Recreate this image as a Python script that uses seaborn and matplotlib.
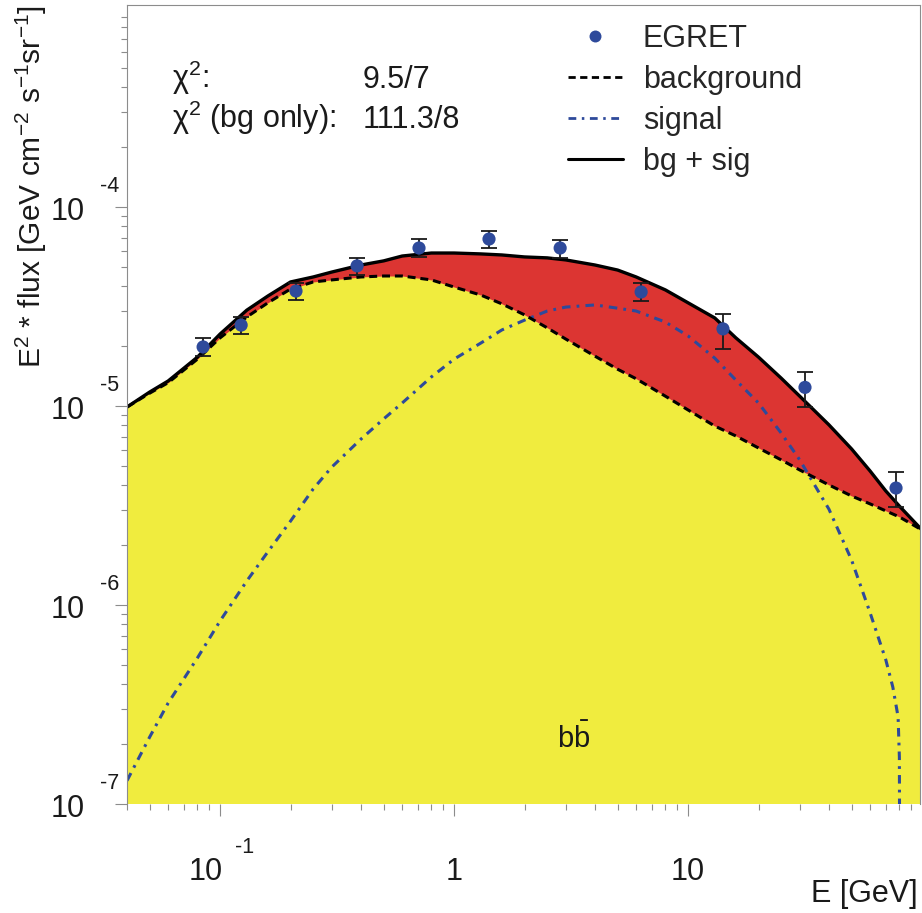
import numpy as np
import matplotlib
matplotlib.use("Agg")
import matplotlib.pyplot as plt
import seaborn as sns
from matplotlib.lines import Line2D
from matplotlib.ticker import FixedLocator, LogLocator, NullFormatter

# ---------------- data ----------------
egret_E = [0.0846, 0.123, 0.211, 0.385, 0.708, 1.41, 2.84, 6.3, 14.1, 31.6, 77.4]
egret_flux = [1.98e-5, 2.55e-5, 3.78e-5, 5.06e-5, 6.22e-5, 6.9e-5, 6.22e-5, 3.74e-5, 2.44e-5, 1.24e-5, 3.87e-6]
egret_lo = [1.78e-5, 2.30e-5, 3.41e-5, 4.55e-5, 5.61e-5, 6.22e-5, 5.55e-5, 3.37e-5, 1.93e-5, 9.89e-6, 3.10e-6]
egret_hi = [2.20e-5, 2.80e-5, 4.15e-5, 5.55e-5, 6.90e-5, 7.57e-5, 6.83e-5, 4.15e-5, 2.90e-5, 1.48e-5, 4.66e-6]

curve_E = [0.04, 0.05, 0.06, 0.08, 0.1, 0.13, 0.16, 0.2, 0.25, 0.3, 0.4, 0.5, 0.6, 0.8,
           1, 1.3, 1.6, 2, 2.5, 3, 4, 5, 6, 8, 10, 13, 16, 20, 25, 30, 40, 50, 60, 70, 80, 100]
bg_flux = [9.88e-6, 1.16e-5, 1.31e-5, 1.72e-5, 2.20e-5, 2.80e-5, 3.30e-5, 3.87e-5, 4.20e-5,
           4.30e-5, 4.45e-5, 4.50e-5, 4.50e-5, 4.30e-5, 3.96e-5, 3.61e-5, 3.26e-5, 2.87e-5,
           2.47e-5, 2.17e-5, 1.78e-5, 1.53e-5, 1.37e-5, 1.12e-5, 9.55e-6, 7.93e-6, 7.07e-6,
           6.15e-6, 5.36e-6, 4.77e-6, 4.01e-6, 3.53e-6, 3.22e-6, 2.97e-6, 2.77e-6, 2.38e-6]
total_flux = [9.88e-6, 1.175e-5, 1.336e-5, 1.76e-5, 2.30e-5, 3.03e-5, 3.57e-5, 4.20e-5, 4.45e-5,
              4.71e-5, 5.11e-5, 5.36e-5, 5.67e-5, 5.87e-5, 5.87e-5, 5.81e-5, 5.74e-5, 5.61e-5,
              5.55e-5, 5.42e-5, 5.11e-5, 4.82e-5, 4.45e-5, 3.83e-5, 3.30e-5, 2.77e-5, 2.20e-5,
              1.76e-5, 1.38e-5, 1.12e-5, 8.04e-6, 6.08e-6, 4.71e-6, 3.74e-6, 3.14e-6, 2.38e-6]

sig_E = [0.04, 0.05, 0.06, 0.08, 0.1, 0.13, 0.16, 0.2, 0.25, 0.3, 0.4, 0.5, 0.6, 0.8,
         1, 1.3, 1.6, 2, 2.5, 3, 4, 5, 6, 8, 10, 13, 16, 20, 25, 30, 40, 50, 60, 70,
         75, 79, 80, 80.5]
sig_flux = [1.31e-7, 2.17e-7, 3.22e-7, 5.42e-7, 8.32e-7, 1.32e-6, 1.85e-6, 2.64e-6, 3.83e-6,
            4.93e-6, 6.82e-6, 8.61e-6, 1.035e-5, 1.40e-5, 1.72e-5, 2.07e-5, 2.41e-5, 2.70e-5,
            3.00e-5, 3.14e-5, 3.22e-5, 3.10e-5, 3.00e-5, 2.64e-5, 2.25e-5, 1.74e-5, 1.35e-5,
            1.035e-5, 7.31e-6, 5.36e-6, 3.03e-6, 1.68e-6, 9.12e-7, 5.30e-7, 3.87e-7, 2.74e-7,
            1.72e-7, 1e-8]

x_tick_values = [0.1, 1, 10]
x_tick_base = ["10", "1", "10"]
x_tick_exp = ["-1", "", ""]
y_tick_values = [1e-7, 1e-6, 1e-5, 1e-4]
y_tick_base = ["10", "10", "10", "10"]
y_tick_exp = ["-7", "-6", "-5", "-4"]

legend_labels = ["EGRET", "background", "signal", "bg + sig"]
chi2_labels = ["\u03c7$^{2}$:", "\u03c7$^{2}$ (bg only):"]
chi2_values = ["9.5/7", "111.3/8"]
channel_label = r"b$\bar{\mathrm{b}}$"

# ---------------- style ----------------
YELLOW = "#F0EC3E"
RED = "#DC3532"
BLUE = "#2E4A9B"
GREY = "#8c8c8c"

sns.set_theme(style="ticks")
plt.rcParams["font.family"] = ["Liberation Sans", "DejaVu Sans"]
plt.rcParams["mathtext.fontset"] = "custom"
plt.rcParams["mathtext.rm"] = "Liberation Sans"
plt.rcParams["mathtext.it"] = "Liberation Sans:italic"
plt.rcParams["mathtext.bf"] = "Liberation Sans:bold"
plt.rcParams["mathtext.default"] = "regular"

fig = plt.figure(figsize=(9.22, 9.13), dpi=100)
ax = fig.add_axes([127 / 922, 1 - 804 / 913, 793 / 922, 799 / 913])
ax.set_xscale("log")
ax.set_yscale("log")
ax.set_xlim(0.04, 98)
ax.set_ylim(1e-7, 1.035e-3)
ax.set_facecolor("white")

# fills
ax.fill_between(curve_E, 1e-9, bg_flux, color=YELLOW, lw=0, zorder=1)
ax.fill_between(curve_E, bg_flux, total_flux, color=RED, lw=0, zorder=1.1)

# curves
SIG_DASH = [2.8, 2.0, 0.9, 2.0]
BG_DASH = [2.6, 1.6]
sns.lineplot(x=sig_E, y=sig_flux, ax=ax, estimator=None, sort=False, color=BLUE,
             lw=2.2, zorder=3, legend=False)
ax.lines[-1].set_dashes(SIG_DASH)
sns.lineplot(x=curve_E, y=bg_flux, ax=ax, estimator=None, sort=False, color="black",
             lw=2.2, zorder=3, legend=False)
ax.lines[-1].set_dashes(BG_DASH)
sns.lineplot(x=curve_E, y=total_flux, ax=ax, estimator=None, sort=False, color="black",
             lw=2.4, zorder=4, legend=False)

# data
yerr = [np.array(egret_flux) - np.array(egret_lo), np.array(egret_hi) - np.array(egret_flux)]
ax.errorbar(egret_E, egret_flux, yerr=yerr, fmt="none", ecolor="#1a1a1a", elinewidth=1.3,
            capsize=5.5, capthick=1.3, zorder=5)
sns.scatterplot(x=egret_E, y=egret_flux, ax=ax, s=90, color=BLUE, edgecolor="none",
                zorder=6, legend=False)

# axes styling
for s in ["left", "top", "right"]:
    ax.spines[s].set_color(GREY)
    ax.spines[s].set_linewidth(0.8)
    ax.spines[s].set_zorder(7)
ax.spines["bottom"].set_visible(False)
ax.grid(False)

ax.xaxis.set_major_locator(FixedLocator(x_tick_values))
ax.yaxis.set_major_locator(FixedLocator(y_tick_values))
ax.xaxis.set_minor_locator(LogLocator(base=10, subs=np.arange(2, 10), numticks=30))
ax.yaxis.set_minor_locator(LogLocator(base=10, subs=np.arange(2, 10), numticks=30))
for axis in (ax.xaxis, ax.yaxis):
    axis.set_major_formatter(NullFormatter())
    axis.set_minor_formatter(NullFormatter())
ax.tick_params(axis="both", which="major", direction="out", length=8.6, width=0.8, color=GREY)
ax.tick_params(axis="both", which="minor", direction="out", length=4.3, width=0.8, color=GREY)

# ROOT-style tick labels
ytr = ax.get_yaxis_transform()
for v, b, e in zip(y_tick_values, y_tick_base, y_tick_exp):
    ax.annotate(b, xy=(0, v), xycoords=ytr, xytext=(-30.2, -9.4), textcoords="offset points",
                ha="right", va="baseline", fontsize=22, color="#1a1a1a")
    ax.annotate(e, xy=(0, v), xycoords=ytr, xytext=(-19.4, 10.8), textcoords="offset points",
                ha="left", va="baseline", fontsize=15.5, color="#1a1a1a")
xtr = ax.get_xaxis_transform()
for v, b, e in zip(x_tick_values, x_tick_base, x_tick_exp):
    if e:
        ax.annotate(b, xy=(v, 0), xycoords=xtr, xytext=(2.2, -54.7), textcoords="offset points",
                    ha="right", va="baseline", fontsize=22, color="#1a1a1a")
        ax.annotate(e, xy=(v, 0), xycoords=xtr, xytext=(10.8, -35.3), textcoords="offset points",
                    ha="left", va="baseline", fontsize=15.5, color="#1a1a1a")
    else:
        ax.annotate(b, xy=(v, 0), xycoords=xtr, xytext=(0, -54.7), textcoords="offset points",
                    ha="center", va="baseline", fontsize=22, color="#1a1a1a")

# axis titles
ax.set_xlabel("E [GeV]", fontsize=22, color="#1a1a1a", loc="right")
ax.xaxis.set_label_coords(0.997, -0.094)
ax.set_ylabel(r"E$^{2}$ * flux [GeV cm$^{-2}$ s$^{-1}$sr$^{-1}$]", fontsize=21.5,
              color="#1a1a1a", loc="top")
ax.yaxis.set_label_coords(-0.0984, 1.0)

# chi2 text
for lab, val, yy in zip(chi2_labels, chi2_values, [0.896, 0.846]):
    ax.text(0.0567, yy, lab, transform=ax.transAxes, fontsize=22, ha="left", va="baseline",
            color="#1a1a1a")
    ax.text(0.2976, yy, val, transform=ax.transAxes, fontsize=22, ha="left", va="baseline",
            color="#1a1a1a")

ax.text(0.5637, 0.070, channel_label, transform=ax.transAxes, fontsize=21, ha="center",
        va="baseline", color="#1a1a1a", zorder=8)

# legend
handles = [
    Line2D([], [], ls="none", marker="o", markersize=8.6, color=BLUE, markeredgewidth=0),
    Line2D([], [], color="black", lw=2.0, dashes=BG_DASH),
    Line2D([], [], color=BLUE, lw=2.0, dashes=SIG_DASH),
    Line2D([], [], color="black", lw=2.2),
]
ax.legend(handles, legend_labels, loc="upper left", bbox_to_anchor=(0.556, 0.976),
          frameon=False, fontsize=22, handlelength=1.8, handletextpad=0.65,
          labelspacing=0.36, borderpad=0, borderaxespad=0, numpoints=1)

fig.savefig("out.png", dpi=100, facecolor="white")
